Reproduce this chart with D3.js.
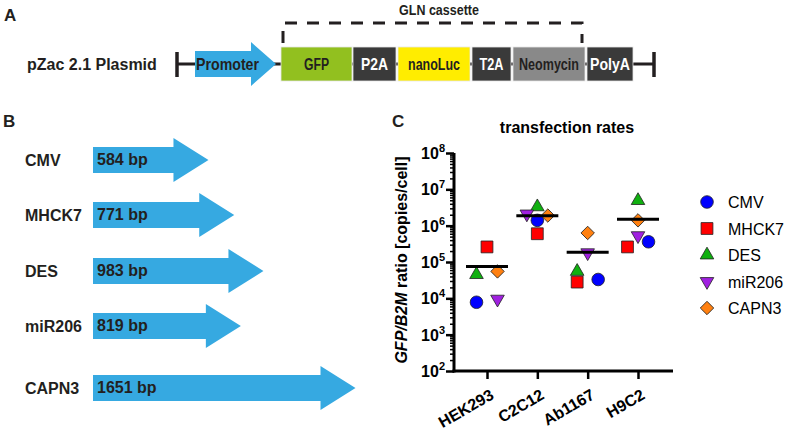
<!DOCTYPE html>
<html><head><meta charset="utf-8">
<script src="https://cdn.jsdelivr.net/npm/d3@7"></script>
<style>
html,body{margin:0;padding:0;background:#fff;}
svg text{font-family:"Liberation Sans",Arial,sans-serif;}
</style></head>
<body>
<svg id="c" width="787" height="435"></svg>
<script>
// ---------- DATA ----------
const cassetteParts = ["GFP","P2A","nanoLuc","T2A","Neomycin","PolyA"];
const promoters = ["CMV","MHCK7","DES","miR206","CAPN3"];
const promoterBp = [584, 771, 983, 819, 1651];
const cellLines = ["HEK293","C2C12","Ab1167","H9C2"];
// GFP/B2M ratio [copies/cell], per cell line (order as cellLines)
const CMV    = [7.8e3, 1.4e6, 3.3e4, 3.6e5];
const MHCK7  = [2.6e5, 6.0e5, 2.8e4, 2.6e5];
const DES    = [4.5e4, 3.3e6, 5.5e4, 4.9e6];
const miR206 = [9.5e3, 2.1e6, 1.8e5, 5.3e5];
const CAPN3  = [5.5e4, 1.9e6, 6.3e5, 1.4e6];
const yTicks = [1e2,1e3,1e4,1e5,1e6,1e7,1e8];

// ---------- LAYOUT / STYLE ----------
const svg = d3.select("#c");
const blue = "#36a9e1";
const ink = "#231f20";

// condensed text: scale horizontally to a target width, centred on cx
function narrowText(g, str, cx, y, w, size, color){
  const t = g.append("text").attr("font-size",size).attr("font-weight","bold").attr("fill",color)
    .attr("text-anchor","middle").text(str);
  const nat = t.node().getComputedTextLength();
  t.attr("transform",`translate(${cx},${y}) scale(${w/nat},1)`);
  return t;
}

// panel letters
[["A",4,21],["B",3,127],["C",392,127]].forEach(([t,x,y])=>
  svg.append("text").attr("x",x).attr("y",y).attr("font-size",17).attr("font-weight","bold").attr("fill",ink).text(t));

// ===== Panel A =====
const gA = svg.append("g");
const yMid = 64;
gA.append("text").attr("x",27).attr("y",yMid+6).attr("font-size",16).attr("font-weight","bold").attr("fill",ink).text("pZac 2.1 Plasmid");
gA.append("line").attr("x1",177).attr("x2",654).attr("y1",yMid).attr("y2",yMid).attr("stroke",ink).attr("stroke-width",3);
[177,654].forEach(x=>gA.append("line").attr("x1",x).attr("x2",x).attr("y1",52).attr("y2",77).attr("stroke",ink).attr("stroke-width",3.5));
// promoter arrow
gA.append("path").attr("d",`M195,${yMid-13}H251V${yMid-22}L276,${yMid}L251,${yMid+22}V${yMid+13}H195Z`).attr("fill",blue);
narrowText(gA,"Promoter",227.5,yMid+5.5,63,16,ink);
// cassette boxes
const partX = [281,353,398,472,513,587];
const partW = [71,43,72,39,72,46];
const partTextW = [25,27,52,24,60,40];
const partFill = ["#92c01f","#3a3a3a","#ffed00","#3a3a3a","#898989","#3a3a3a"];
const partText = [ink,"#fff",ink,"#fff",ink,"#fff"];
cassetteParts.forEach((p,i)=>{
  gA.append("rect").attr("x",partX[i]).attr("y",47).attr("width",partW[i]).attr("height",34).attr("fill",partFill[i]).attr("stroke","#e6e6e6").attr("stroke-width",0.8);
  narrowText(gA,p,partX[i]+partW[i]/2,yMid+5.5,partTextW[i],16,partText[i]);
});
// bracket
gA.append("path").attr("d","M283,43V23H582V43").attr("fill","none").attr("stroke",ink).attr("stroke-width",3).attr("stroke-dasharray","12,10");
narrowText(gA,"GLN cassette",439,15,80,14,ink);

// ===== Panel B =====
const gB = svg.append("g");
const rowY = [160,215,271,326,388];
const bodyLen = d3.scaleLinear().domain([0,1651]).range([0,227.5]);
const x0 = 93;
promoters.forEach((p,i)=>{
  const y = rowY[i], xe = x0 + bodyLen(promoterBp[i]);
  gB.append("path").attr("d",`M${x0},${y-13}H${xe}V${y-22}L${xe+35},${y}L${xe},${y+22}V${y+13}H${x0}Z`).attr("fill",blue);
  gB.append("text").attr("x",25).attr("y",y+6).attr("font-size",16).attr("font-weight","bold").attr("fill",ink).text(p);
  gB.append("text").attr("x",97).attr("y",y+5).attr("font-size",16).attr("font-weight","bold").attr("fill",ink).text(promoterBp[i]+" bp");
});

// ===== Panel C =====
const gC = svg.append("g");
const y = d3.scaleLog().domain([1e2,1e8]).range([371,153]);
const x = d3.scalePoint().domain(cellLines).range([487,638]);
gC.append("text").attr("x",567).attr("y",133).attr("text-anchor","middle").attr("font-size",16).attr("font-weight","bold").attr("fill","#000").text("transfection rates");

// y axis
const yAx = gC.append("g").attr("transform","translate(454,0)")
  .call(d3.axisLeft(y).tickValues(yTicks).tickSize(8).tickFormat(""));
const minor = [];
for (let k=2;k<8;k++) for (let m=2;m<10;m++) minor.push(m*Math.pow(10,k));
gC.append("g").attr("transform","translate(454,0)")
  .call(d3.axisLeft(y).tickValues(minor).tickSize(4).tickFormat(""))
  .call(g=>g.select(".domain").remove())
  .selectAll("line").attr("stroke","#000").attr("stroke-width",1.5);
yAx.select(".domain").attr("stroke","#000").attr("stroke-width",3).attr("d","M0,153V372.5");
yAx.selectAll(".tick line").attr("stroke","#000").attr("stroke-width",2.5);
yTicks.forEach(v=>{
  const t = gC.append("text").attr("x",445).attr("y",y(v)+6).attr("text-anchor","end").attr("font-size",16).attr("font-weight","bold").attr("fill","#000");
  t.append("tspan").text("10");
  t.append("tspan").attr("font-size",11).attr("dy",-7).text(Math.round(Math.log10(v)));
});
// y label
gC.append("text").attr("transform","translate(407,260) rotate(-90)").attr("text-anchor","middle").attr("font-size",16).attr("font-weight","bold").attr("fill","#000")
  .call(t=>{t.append("tspan").attr("font-style","italic").text("GFP/B2M");t.append("tspan").text(" ratio [copies/cell]");});

// x axis
const xAx = gC.append("g").attr("transform","translate(0,371)")
  .call(d3.axisBottom(x).tickSize(8).tickFormat(""));
xAx.select(".domain").attr("stroke","#000").attr("stroke-width",3).attr("d","M452.5,0H673");
xAx.selectAll(".tick line").attr("stroke","#000").attr("stroke-width",2.5);
cellLines.forEach(c=>{
  gC.append("text").attr("transform",`translate(${x(c)+8},398) rotate(-30)`).attr("text-anchor","end").attr("font-size",16).attr("font-weight","bold").attr("fill","#000").text(c);
});

// series
const series = [
  {name:"CMV", vals:CMV, color:"#0000ff", shape:"circle"},
  {name:"MHCK7", vals:MHCK7, color:"#ff0000", shape:"square"},
  {name:"DES", vals:DES, color:"#10b010", shape:"triangle"},
  {name:"miR206", vals:miR206, color:"#a020e0", shape:"tridown"},
  {name:"CAPN3", vals:CAPN3, color:"#ff8010", shape:"diamond"}
];
// jitter slots (layout), series x cell line
const jitter = [[-1,0,1,1],[0,0,-1,-1],[-1,0,-1,0],[1,-1,0,0],[1,1,0,0]];
function sym(shape){
  if(shape==="circle") return d3.symbol(d3.symbolCircle,125)();
  if(shape==="square") return d3.symbol(d3.symbolSquare,140)();
  if(shape==="triangle"||shape==="tridown") return d3.symbol(d3.symbolTriangle,80)();
  return d3.symbol(d3.symbolSquare,90)();
}
function rot(shape){ return shape==="tridown"?180:shape==="diamond"?45:0; }
series.forEach((s,si)=>{
  s.vals.forEach((v,ci)=>{
    gC.append("path").attr("d",sym(s.shape))
      .attr("transform",`translate(${x(cellLines[ci])+jitter[si][ci]*10.5},${y(v)}) rotate(${rot(s.shape)})`)
      .attr("fill",s.color).attr("stroke","#222").attr("stroke-width",0.8);
  });
});
// mean lines
cellLines.forEach((c,ci)=>{
  const m = d3.mean(series, s=>s.vals[ci]);
  gC.append("line").attr("x1",x(c)-21).attr("x2",x(c)+21).attr("y1",y(m)).attr("y2",y(m)).attr("stroke","#000").attr("stroke-width",3);
});

// legend
const lg = gC.append("g");
series.forEach((s,i)=>{
  const ly = 202 + i*26.5;
  lg.append("path").attr("d",sym(s.shape)).attr("transform",`translate(707,${ly}) rotate(${rot(s.shape)})`)
    .attr("fill",s.color).attr("stroke","#222").attr("stroke-width",0.8);
  lg.append("text").attr("x",728).attr("y",ly+6).attr("font-size",16).attr("fill","#000").text(s.name);
});
</script>
</body></html>
